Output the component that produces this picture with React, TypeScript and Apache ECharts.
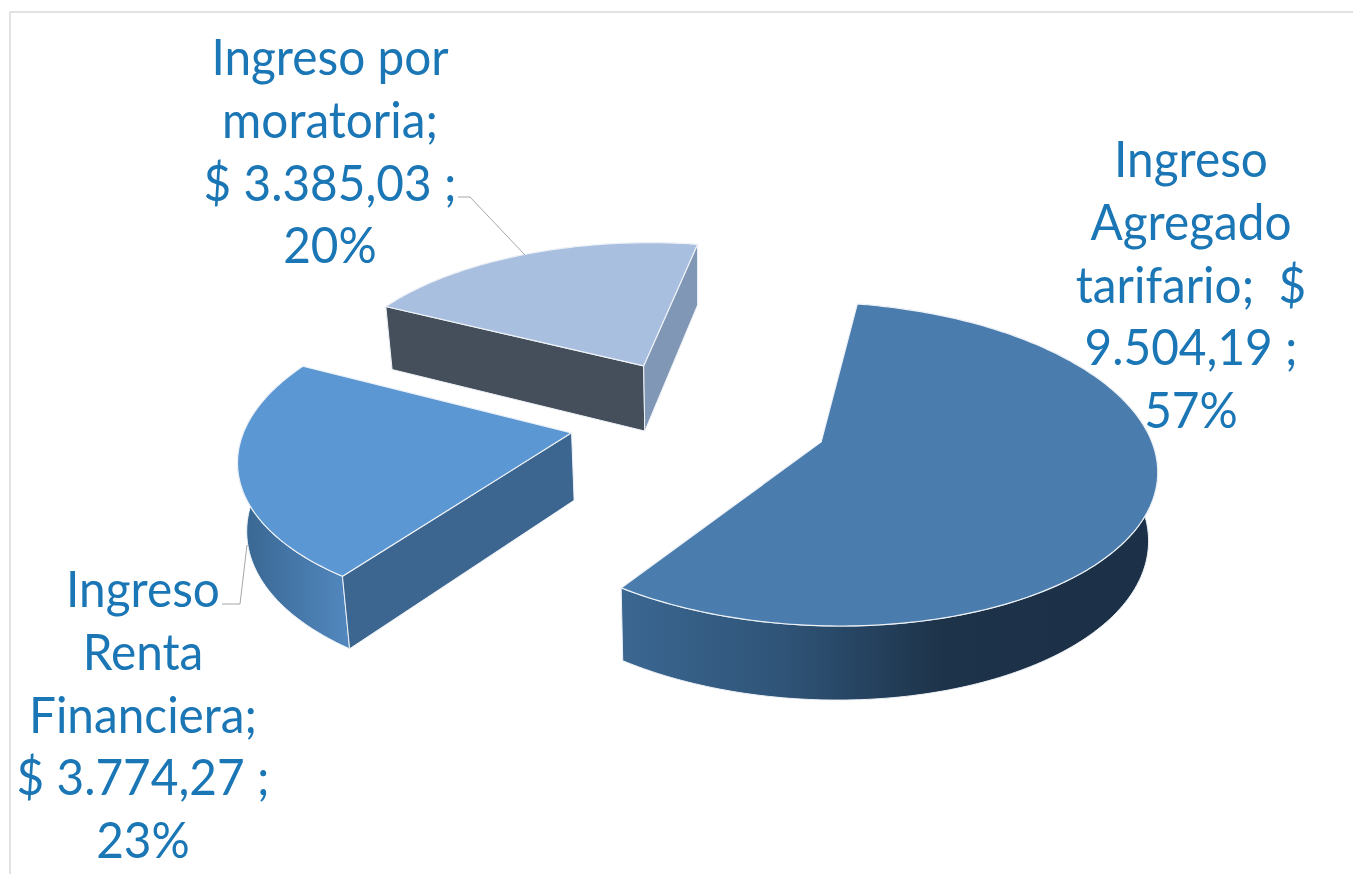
import React, { useEffect, useRef } from "react";
import * as echarts from "echarts";

const names = ["Ingreso Agregado tarifario", "Ingreso Renta Financiera", "Ingreso por moratoria"];
const values = [9504.19, 3774.27, 3385.03];
const labelTexts = [
  "Ingreso\nAgregado\ntarifario;  $\n9.504,19 ;\n57%",
  "Ingreso\nRenta\nFinanciera;\n$ 3.774,27 ;\n23%",
  "Ingreso por\nmoratoria;\n$ 3.385,03 ;\n20%",
];
const topColors = ["#4a7cad", "#5b97d3", "#a9bfdf"];

const START = 10;
const CX = 699, CY = 418, RX = 324, RZ = 152.5, DIST = 7.5, EXPLODE = 0.4, HEIGHT = 67, SHRINK = 0.98;
const FONT = "Lato";
const LABEL_COLOR = "#1a76b5";
const LINE_H = 62.6;

const total = values.reduce((a, b) => a + b, 0);
const rad = (d: number) => (d * Math.PI) / 180;

function project(X: number, Z: number, down: boolean) {
  const s = 1 / (1 + Z / DIST);
  const sx = X * RX * s;
  const sy = -Z * RZ * s;
  return down ? [CX + sx * SHRINK, CY + sy + HEIGHT * Math.pow(s, 0.6)] : [CX + sx, CY + sy];
}

function renderItem(params: any, api: any) {
  const i = api.value(1) as number;
  let a0 = START;
  for (let k = 0; k < i; k++) a0 += (values[k] / total) * 360;
  const a1 = a0 + (api.value(0) / total) * 360;
  const mid = rad((a0 + a1) / 2);
  const ox = Math.sin(mid) * EXPLODE, oz = Math.cos(mid) * EXPLODE;
  const pt = (deg: number, r: number): [number, number] => [ox + Math.sin(rad(deg)) * r, oz + Math.cos(rad(deg)) * r];
  const arc = (down: boolean) => {
    const out: number[][] = [];
    const n = Math.ceil(a1 - a0);
    for (let k = 0; k <= n; k++) {
      const [x, z] = pt(a0 + ((a1 - a0) * k) / n, 1);
      out.push(project(x, z, down));
    }
    return out;
  };
  const top = arc(false), bottom = arc(true);
  const apexT = project(ox, oz, false), apexB = project(ox, oz, true);
  const children: any[] = [];
  const edge = { stroke: "#eef2f7", lineWidth: 1 };

  // outer rim
  const rimFills = [
    { type: "linear", x: 0, y: 0, x2: 1, y2: 0, colorStops: [
      { offset: 0, color: "#3b6791" }, { offset: 0.3, color: "#2f5478" }, { offset: 0.6, color: "#1d3349" }, { offset: 1, color: "#1c3047" } ] },
    { type: "linear", x: 0, y: 0, x2: 1, y2: 0, colorStops: [
      { offset: 0, color: "#386590" }, { offset: 1, color: "#5288bf" } ] },
    "#8098b5",
  ];
  children.push({ type: "polygon", shape: { points: [...top, ...bottom.slice().reverse()] }, style: { fill: rimFills[i], ...edge } });

  // cut faces: only those turned towards the viewer
  const wallColors = [["#2f5478", "#2f5478"], ["#3c6690", "#3c6690"], ["#454f5c", "#8098b5"]];
  const wall = (deg: number, normalDeg: number, idx: number, t: number[], b: number[]) => {
    const [mx, mz] = pt(deg, 0.5);
    const nx = Math.sin(rad(normalDeg)), nz = Math.cos(rad(normalDeg));
    if (nx * -mx + nz * (-DIST - mz) > 0) {
      children.push({ type: "polygon", shape: { points: [apexT, t, b, apexB] }, style: { fill: wallColors[i][idx], ...edge } });
    }
  };
  wall(a0, a0 - 90, 0, top[0], bottom[0]);
  wall(a1, a1 + 90, 1, top[top.length - 1], bottom[bottom.length - 1]);

  // top face
  children.push({ type: "polygon", shape: { points: [apexT, ...top] }, style: { fill: topColors[i], stroke: "#eef2f7", lineWidth: 1.2 } });
  return { type: "group", children };
}

const label = (i: number, x: number, yFirst: number) => ({
  type: "text",
  x,
  y: yFirst - LINE_H / 2,
  scaleX: 0.955,
  z: 10,
  style: { text: labelTexts[i], fontFamily: FONT, fontSize: 50, lineHeight: LINE_H, fill: LABEL_COLOR, align: "center", verticalAlign: "top" },
});

const leader = (points: number[][]) => ({ type: "polyline", z: 10, shape: { points }, style: { stroke: "#a6a6a6", lineWidth: 1, fill: "none" } });

export default function App() {
  const ref = useRef<HTMLDivElement>(null);
  useEffect(() => {
    const chart = echarts.init(ref.current!, undefined, { renderer: "svg" });
    chart.setOption({
      animation: false,
      backgroundColor: "#ffffff",
      graphic: { elements: [
        { type: "rect", shape: { x: 10, y: 12, width: 1500, height: 1000 }, style: { fill: "none", stroke: "#d9d9d9", lineWidth: 1.5 }, z: -1 },
        leader([[458, 197], [470, 197], [525, 255]]),
        leader([[222, 604], [240, 604], [247, 545]]),
        label(0, 1191, 158),
        label(1, 143, 588),
        label(2, 330, 56),
      ] },
      series: [{
        type: "custom",
        coordinateSystem: "none",
        silent: true,
        renderItem,
        data: [2, 1, 0].map((i) => ({ name: names[i], value: [values[i], i] })),
      }],
    });
    return () => chart.dispose();
  }, []);
  return <div ref={ref} style={{ position: "absolute", left: 0, top: 0, width: 1353, height: 874 }} />;
}
